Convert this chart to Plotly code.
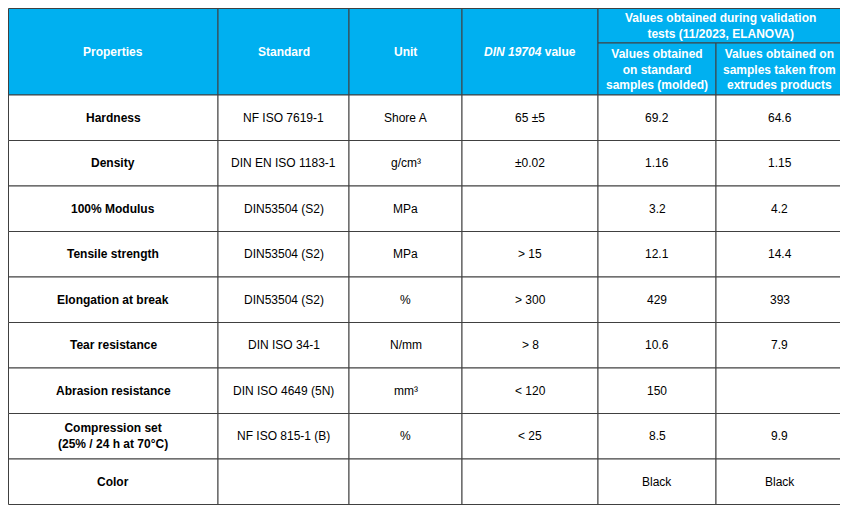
import plotly.graph_objects as go

properties = ["Hardness", "Density", "100% Modulus", "Tensile strength", "Elongation at break",
              "Tear resistance", "Abrasion resistance", "Compression set<br>(25% / 24 h at 70°C)", "Color"]
standards = ["NF ISO 7619-1", "DIN EN ISO 1183-1", "DIN53504 (S2)", "DIN53504 (S2)", "DIN53504 (S2)",
             "DIN ISO 34-1", "DIN ISO 4649 (5N)", "NF ISO 815-1 (B)", ""]
units = ["Shore A", "g/cm³", "MPa", "MPa", "%", "N/mm", "mm³", "%", ""]
din_values = ["65 ±5", "±0.02", "", "> 15", "> 300", "> 8", "< 120", "< 25", ""]
molded = ["69.2", "1.16", "3.2", "12.1", "429", "10.6", "150", "8.5", "Black"]
extruded = ["64.6", "1.15", "4.2", "14.4", "393", "7.9", "", "9.9", "Black"]

# page has an 8px body margin, so axis ranges start at 8 to keep coordinates in screen pixels
col_x = [8.5, 218, 349, 462, 598, 716, 843]
top, head_split, head_bottom, row_h = 8.5, 43, 95, 45.5
header_fill = "#00B0F0"
line_c = "#404040"
font = "Liberation Sans Narrow, Arial Narrow, Liberation Sans, sans-serif"

fig = go.Figure()
shapes, ann = [], []

def cell(x0, x1, y0, y1, fill, text, bold=False, color="black"):
    shapes.append(dict(type="rect", x0=x0, x1=x1, y0=y0, y1=y1, fillcolor=fill,
                       line=dict(color=line_c, width=1), layer="below"))
    if text:
        ann.append(dict(x=(x0 + x1) / 2, y=(y0 + y1) / 2, text=f"<b>{text}</b>" if bold else text,
                        showarrow=False, font=dict(family=font, size=12, color=color)))

heads = ["Properties", "Standard", "Unit", "<i>DIN 19704</i> value"]
for i, h in enumerate(heads):
    cell(col_x[i], col_x[i + 1], top, head_bottom, header_fill, h, True, "white")
cell(col_x[4], col_x[6], top, head_split, header_fill,
     "Values obtained during validation<br>tests (11/2023, ELANOVA)", True, "white")
cell(col_x[4], col_x[5], head_split, head_bottom, header_fill,
     "Values obtained<br>on standard<br>samples (molded)", True, "white")
cell(col_x[5], col_x[6], head_split, head_bottom, header_fill,
     "Values obtained on<br>samples taken from<br>extrudes products", True, "white")

cols = [properties, standards, units, din_values, molded, extruded]
for r in range(len(properties)):
    y0 = head_bottom + r * row_h
    for c, vals in enumerate(cols):
        cell(col_x[c], col_x[c + 1], y0, y0 + row_h, "white", vals[r], bold=(c == 0))

fig.update_layout(width=848, height=506, margin=dict(l=0, r=0, t=0, b=0),
                  plot_bgcolor="white", paper_bgcolor="white", shapes=shapes, annotations=ann,
                  xaxis=dict(range=[8, 856], visible=False, fixedrange=True),
                  yaxis=dict(range=[514, 8], visible=False, fixedrange=True),
                  showlegend=False)
fig.write_html("out.html")
